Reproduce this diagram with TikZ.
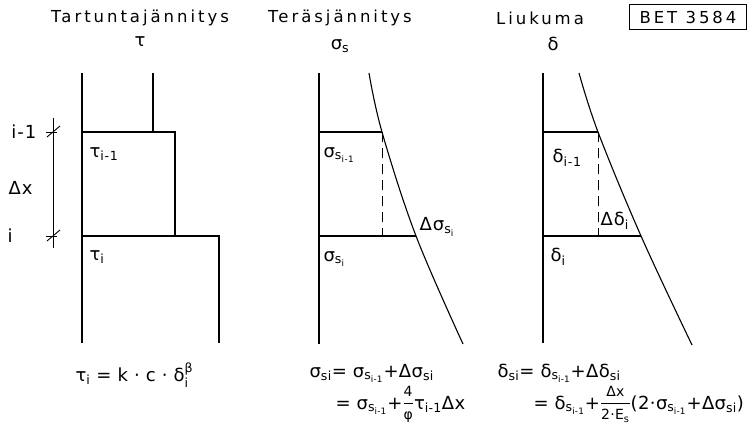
\documentclass[tikz,border=0pt]{standalone}
\usepackage{amsmath}
\usepackage{fontspec}
\setmainfont[LetterSpace=18]{DejaVu Sans}
\newfontfamily\lblfont[LetterSpace=6]{DejaVu Sans}
\newfontfamily\frmfont[LetterSpace=2]{DejaVu Sans}
\newcommand{\ix}[1]{\ensuremath{_{\text{#1}}}}
\newcommand{\fr}[2]{\raisebox{1pt}{\ensuremath{\genfrac{}{}{0.8pt}{0}{\text{\fontsize{14}{14}\selectfont #1}}{\text{\fontsize{14}{14}\selectfont #2}}}}}
\usetikzlibrary{calc}

\begin{document}
\begin{tikzpicture}[x=1pt,y=-1pt,line width=1.1pt,
        ttl/.style={inner sep=0pt,font=\fontsize{16.5}{18}\selectfont},
        lbl/.style={anchor=west,inner sep=0pt,font=\lblfont\fontsize{18}{20}\selectfont},
        frm/.style={anchor=base west,inner sep=0pt,font=\frmfont\fontsize{18}{22}\selectfont},
        hidden/.style={dash pattern=on 10pt off 6pt}]
    \useasboundingbox (0,0) rectangle (751,427);
    % titles
    \node[ttl] (ttau) at (140,18) {Tartuntajännitys};
    \node[ttl] (tsig) at (340,18) {Teräsjännitys};
    \node[ttl] (tdel) at (540,18) {Liukuma};
    \node[lbl,anchor=center] (stau) at (140,42) {τ};
    \node[lbl,anchor=center] (ssig) at (340,46) {σ\ix{s}};
    \node[lbl,anchor=center] (sdel) at (553,44) {δ};
    \node[draw,line width=0.8pt,ttl,minimum width=117pt,minimum height=25pt] (bet) at (688,17) {BET 3584};
    % bond stress
    \coordinate (A0) at (82,73);
    \coordinate (A1) at (82,132);
    \coordinate (A2) at (82,236);
    \coordinate (A3) at (82,343);
    \coordinate (B0) at (153,73);
    \coordinate (B1) at (153,132);
    \coordinate (C1) at (175,132);
    \coordinate (C2) at (175,236);
    \coordinate (D2) at (219,236);
    \coordinate (D3) at (219,343);
    \draw (A0) -- (A3);
    \draw (B0) -- (B1) -- (C1) -- (C2);
    \draw (A1) -- (B1);
    \draw (A2) -- (D2) -- (D3);
    \node[lbl] (tau1) at (89,154) {τ\ix{i-1}};
    \node[lbl] (tau2) at (89,257) {τ\ix{i}};
    % dimension
    \coordinate (M0) at (53,118);
    \coordinate (M1) at (53,132);
    \coordinate (M2) at (53,236);
    \coordinate (M3) at (53,248);
    \draw[line width=0.9pt] (M0) -- (M3);
    \foreach \p in {M1,M2}{
        \draw[line width=0.9pt] ($(\p)+(-6,5)$) -- ($(\p)+(7,-6)$);
        \draw[line width=0.9pt] ($(\p)+(-7,0)$) -- ($(\p)+(4,0)$);
    }
    \node[lbl,anchor=east] (im1) at (37,132) {i-1};
    \node[lbl] (dx) at (8,188) {Δx};
    \node[lbl] (ii) at (7,236) {i};
    % steel stress
    \coordinate (E0) at (319,73);
    \coordinate (E1) at (319,132);
    \coordinate (E2) at (319,236);
    \coordinate (E3) at (319,344);
    \coordinate (S0) at (369,73);
    \coordinate (S1) at (382,132);
    \coordinate (S2) at (416,236);
    \coordinate (S3) at (463,344);
    \draw (E0) -- (E3);
    \draw plot[smooth,tension=0.6] coordinates {(S0) (S1) (S2) (S3)};
    \draw (E1) -- (S1);
    \draw (E2) -- (S2);
    \draw[hidden,line width=0.9pt] (S1) -- (S1 |- S2);
    \node[lbl] (sig1) at (323,155) {σ\ix{s\ix{i-1}}};
    \node[lbl] (dsig) at (419,227) {Δσ\ix{s\ix{i}}};
    \node[lbl] (sig2) at (323,259) {σ\ix{s\ix{i}}};
    % slip
    \coordinate (F0) at (543,73);
    \coordinate (F1) at (543,132);
    \coordinate (F2) at (543,236);
    \coordinate (F3) at (543,343);
    \coordinate (G0) at (579,73);
    \coordinate (G1) at (598,132);
    \coordinate (G2) at (641,236);
    \coordinate (G3) at (692,345);
    \draw (F0) -- (F3);
    \draw plot[smooth,tension=0.6] coordinates {(G0) (G1) (G2) (G3)};
    \draw (F1) -- (G1);
    \draw (F2) -- (G2);
    \draw[hidden,line width=0.9pt] (G1) -- (G1 |- G2);
    \node[lbl] (del1) at (552,158) {δ\ix{i-1}};
    \node[lbl] (ddel) at (600,221) {Δδ\ix{i}};
    \node[lbl] (del2) at (550,257) {δ\ix{i}};
    % formulas
    \node[frm] (ftau) at (75,381) {τ\ix{i} = k · c · δ$_\text{i}^\text{β}$};
    \node[frm] (fsig1) at (309,377) {σ\ix{si}= σ\ix{s\ix{i-1}}+Δσ\ix{si}};
    \node[frm] (fsig2) at (335,409) {= σ\ix{s\ix{i-1}}+\fr{4}{φ}τ\ix{i-1}Δx};
    \node[frm] (fdel1) at (497,377) {δ\ix{si}= δ\ix{s\ix{i-1}}+Δδ\ix{si}};
    \node[frm] (fdel2) at (533,409) {= δ\ix{s\ix{i-1}}+\fr{Δx}{2·E\ix{s}}(2·σ\ix{s\ix{i-1}}+Δσ\ix{si})};
\end{tikzpicture}
\end{document}
